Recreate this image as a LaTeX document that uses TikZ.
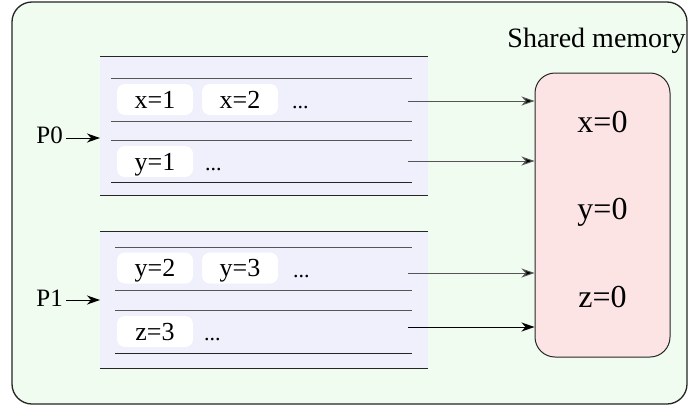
\documentclass[tikz,border=0pt]{standalone}
\usepackage{fontspec}
\setmainfont{Liberation Serif}
\usetikzlibrary{arrows.meta}
\definecolor{outerfill}{RGB}{240,252,240}
\definecolor{procfill}{RGB}{240,240,252}
\definecolor{memfill}{RGB}{252,228,228}
\definecolor{linegray}{RGB}{85,85,85}
\begin{document}
\begin{tikzpicture}[x=1pt,y=-1pt,
  outerbox/.style={draw=black!85, line width=1.3pt, fill=outerfill, rounded corners=20pt},
  procbox/.style={fill=procfill},
  edgeline/.style={draw=black!85, line width=1.2pt},
  slotline/.style={draw=linegray, line width=1pt},
  pill/.style={fill=white, rounded corners=8pt, minimum width=76pt, minimum height=31pt, inner sep=0pt, text height=17.6pt, text depth=0pt, font=\fontsize{26}{30}\selectfont},
  dots/.style={font=\fontsize{22}{26}\selectfont, anchor=base west, inner sep=0pt},
  memtext/.style={font=\fontsize{32}{38}\selectfont, anchor=base, inner sep=0pt},
  plabel/.style={font=\fontsize{25}{30}\selectfont, anchor=base east, inner sep=0pt},
  conn/.style={draw=linegray, line width=1pt, -{Stealth[length=13pt,width=9pt,inset=4pt,fill=black]}}
]
\useasboundingbox (0,0) rectangle (690,407);
\fill[white] (0,0) rectangle (690,407);
% outer frame
\path[outerbox] (12,2) rectangle (687,404);
\node[font=\fontsize{28}{34}\selectfont, anchor=base, inner sep=0pt] (title) at (596.5,47) {Shared memory};
% shared memory
\node[draw=black!85, line width=1pt, fill=memfill, rounded corners=20pt, minimum width=135pt, minimum height=284pt, inner sep=0pt] (mem) at (602.5,215) {};
\node[memtext] (mx) at (602.5,132) {x=0};
\node[memtext] (my) at (602.5,219) {y=0};
\node[memtext] (mz) at (602.5,307) {z=0};
% P0 block
\node[procbox, minimum width=328pt, minimum height=138pt, inner sep=0pt] (p0) at (264,126) {};
\draw[edgeline] (p0.north west) -- (p0.north east);
\draw[edgeline] (p0.south west) -- (p0.south east);
\draw[slotline] (111,78) -- (412,78);
\draw[slotline] (111,121) -- (412,121);
\draw[slotline] (111,140) -- (412,140);
\draw[black!85, line width=1pt] (111,182) -- (412,182);
\node[pill] (x1) at (155,99.5) {x=1};
\node[pill] (x2) at (240,99.5) {x=2};
\node[dots] (d1) at (292,108) {...};
\node[pill] (y1) at (155,161.5) {y=1};
\node[dots] (d2) at (205,170) {...};
% P1 block
\node[procbox, minimum width=328pt, minimum height=136pt, inner sep=0pt] (p1) at (264,300) {};
\draw[edgeline] (p1.north west) -- (p1.north east);
\draw[edgeline] (p1.south west) -- (p1.south east);
\draw[slotline] (115,247) -- (412,247);
\draw[slotline] (115,290) -- (412,290);
\draw[slotline] (115,310) -- (412,310);
\draw[black!85, line width=1pt] (115,353) -- (412,353);
\node[pill] (y2) at (155,268) {y=2};
\node[pill] (y3) at (240,268) {y=3};
\node[dots] (d3) at (293,277) {...};
\node[pill] (z3) at (155,331.5) {z=3};
\node[dots] (d4) at (204,340) {...};
% process labels
\node[plabel] (lp0) at (63,143) {P0};
\node[plabel] (lp1) at (63,306) {P1};
\coordinate (p0in) at (100,138);
\coordinate (p1in) at (100,300);
\draw[conn, draw=black, shorten <=3pt] (lp0.east |- p0in) -- (p0in);
\draw[conn, draw=black, shorten <=3pt] (lp1.east |- p1in) -- (p1in);
% connectors to shared memory
\coordinate (s1) at (408,101);
\coordinate (s2) at (408,161);
\coordinate (s3) at (408,273);
\coordinate (s4) at (408,327);
\draw[conn] (s1) -- (s1 -| mem.west);
\draw[conn] (s2) -- (s2 -| mem.west);
\draw[conn] (s3) -- (s3 -| mem.west);
\draw[conn, draw=black] (s4) -- (s4 -| mem.west);
\end{tikzpicture}
\end{document}
